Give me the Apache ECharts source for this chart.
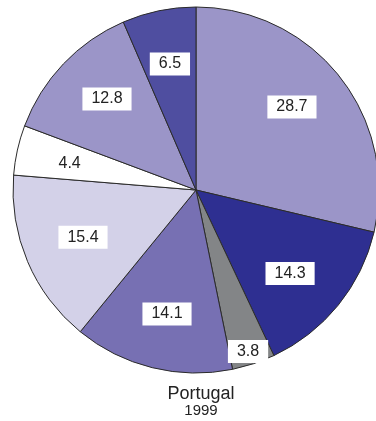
<!DOCTYPE html>
<html>
<head>
<meta charset="utf-8">
<script src="https://cdn.jsdelivr.net/npm/echarts@6/dist/echarts.min.js"></script>
<style>
  html, body { margin: 0; padding: 0; background: #ffffff; }
  #chart { width: 376px; height: 421px; }
</style>
</head>
<body>
<div id="chart"></div>
<script>
// Shares (%), clockwise from 12 o'clock
const shareValues = [28.7, 14.3, 3.8, 14.1, 15.4, 4.4, 12.8, 6.5];
const sliceColors = ['#9b95c8', '#2e2f91', '#838587', '#7770b3', '#d3d1e8', '#ffffff', '#9b95c8', '#4f4ea0'];
const titleText = 'Portugal';
const yearText = '1999';

const CX = 196, CY = 190, R = 183;
// value label placement: distance from centre (fraction of radius)
// and a small turn (degrees) away from the slice bisector
const labelRadius = [0.693, 0.687, 0.927, 0.696, 0.669, 0.705, 0.696, 0.703];
const labelTurn = [-2.5, 2.5, 0.5, -0.7, 0.4, -1.0, 2.1, 0.0];

const chart = echarts.init(document.getElementById('chart'), null, { renderer: 'canvas' });

chart.setOption({
  backgroundColor: '#ffffff',
  animation: false,
  title: {
    text: titleText,
    subtext: yearText,
    left: CX,
    top: 380,
    textAlign: 'center',
    itemGap: 0,
    textStyle: { fontFamily: 'Liberation Sans, Arial, sans-serif', fontSize: 18, fontWeight: 'normal', color: '#222222' },
    subtextStyle: { fontFamily: 'Liberation Sans, Arial, sans-serif', fontSize: 15, color: '#222222' }
  },
  series: [{
    type: 'pie',
    center: [CX, CY],
    radius: [0, R],
    startAngle: 90,
    clockwise: true,
    avoidLabelOverlap: false,
    silent: true,
    emphasis: { disabled: true },
    itemStyle: { borderColor: '#2b2b2b', borderWidth: 1 },
    label: {
      show: true,
      position: 'inside',
      formatter: '{c}',
      fontFamily: 'Liberation Sans, Arial, sans-serif',
      fontSize: 16,
      color: '#222222',
      backgroundColor: '#ffffff',
      padding: [3, 9, 2, 9],
      lineHeight: 18
    },
    labelLine: { show: false },
    labelLayout: function (p) {
      const r = p.labelRect;
      const cx = r.x + r.width / 2;
      const cy = r.y + r.height / 2;
      // angle measured clockwise from 12 o'clock
      const a = Math.atan2(cx - CX, -(cy - CY)) + labelTurn[p.dataIndex] * Math.PI / 180;
      const d = labelRadius[p.dataIndex] * R;
      const tx = CX + d * Math.sin(a);
      const ty = CY - d * Math.cos(a);
      return { dx: tx - cx, dy: ty - cy };
    },
    data: shareValues.map(function (v, i) {
      return { value: v, itemStyle: { color: sliceColors[i] } };
    })
  }]
});
</script>
</body>
</html>
